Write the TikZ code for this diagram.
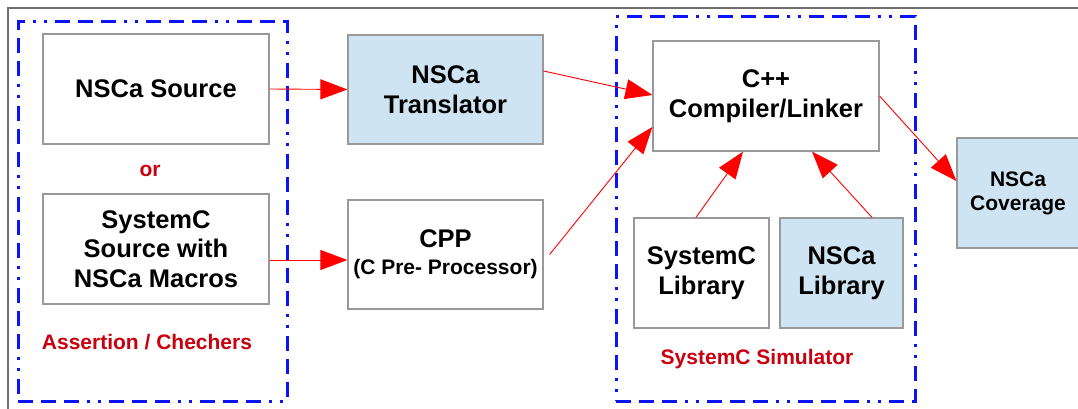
\documentclass[tikz,border=0pt]{standalone}
\usepackage{fontspec}
\setmainfont{Liberation Sans}
\usetikzlibrary{arrows.meta}
\definecolor{boxgray}{HTML}{999999}
\definecolor{framegray}{HTML}{6E6E6E}
\definecolor{toolblue}{HTML}{CFE4F2}
\definecolor{groupblue}{HTML}{0A14F5}
\definecolor{labelred}{HTML}{C8000F}
\definecolor{flowred}{HTML}{FF0000}
\tikzset{
  blockbox/.style={draw=boxgray, line width=1.2pt, fill=white, align=center,
    inner sep=0pt, font=\bfseries\fontsize{25.5}{29.5}\selectfont},
  toolbox/.style={blockbox, fill=toolblue},
  groupbox/.style={draw=groupblue, line width=3pt, inner sep=0pt,
    dash pattern=on 15pt off 8pt on 15pt off 8pt on 15pt off 8pt on 3pt off 8pt on 3pt off 8pt},
  grouplabel/.style={text=labelred, anchor=base, inner sep=0pt,
    font=\bfseries\fontsize{21}{25}\selectfont},
  flow/.style={draw=flowred, line width=0.9pt,
    -{Triangle[length=27pt, width=20pt, fill=flowred]}},
}
\begin{document}
\begin{tikzpicture}[x=1pt, y=-1pt]
  \useasboundingbox (0,0) rectangle (1078,409);
  \fill[white] (0,0) rectangle (1078,409);

  % page frame, open to the right and bottom
  \coordinate (frameTL) at (8,8);
  \coordinate (frameTR) at (1078,8);
  \coordinate (frameBL) at (8,409);
  \draw[framegray, line width=2pt] (frameTR) -- (frameTL) -- (frameBL);

  % groups
  \node[groupbox, minimum width=269pt, minimum height=379pt] (gassert) at (152.5,211.5) {};
  \node[groupbox, minimum width=299pt, minimum height=384pt] (gsim) at (765.5,209) {};

  % assertion sources
  \node[blockbox, minimum width=226pt, minimum height=110pt] (src) at (156,89) {NSCa Source};
  \node[grouplabel] (orlbl) at (150,176) {or};
  \node[blockbox, minimum width=226pt, minimum height=110pt] (scsrc) at (156,249)
    {SystemC\\Source with\\NSCa Macros};
  \node[grouplabel] (assertlbl) at (147,349) {Assertion / Chechers};

  % translation stage
  \node[toolbox, minimum width=195pt, minimum height=109pt] (trans) at (445.5,89.5)
    {NSCa\\Translator};
  \node[blockbox, minimum width=195pt, minimum height=109pt] (cpp) at (445.5,254.5)
    {CPP\\[-3pt]{\fontsize{21}{25}\selectfont (C Pre- Processor)}};

  % simulator
  \node[blockbox, minimum width=226pt, minimum height=110pt] (cxx) at (766,96)
    {C++\\Compiler/Linker};
  \node[blockbox, minimum width=135pt, minimum height=110pt] (sclib) at (701.5,273)
    {SystemC\\Library};
  \node[toolbox, minimum width=123pt, minimum height=110pt] (nslib) at (841.5,273)
    {NSCa\\Library};
  \node[grouplabel] (simlbl) at (757,364) {SystemC Simulator};

  % coverage output
  \node[toolbox, minimum width=122pt, minimum height=110pt,
    font=\bfseries\fontsize{21}{24}\selectfont] (cov) at (1018,193) {NSCa\\Coverage};

  % flows
  \coordinate (cppin) at ([yshift=-5.5pt]cpp.west);
  \draw[flow] (src.east) -- (trans.west);
  \draw[flow] (scsrc.east |- cppin) -- (cppin);
  \draw[flow] ([yshift=18.5pt]trans.east) -- ([yshift=1pt]cxx.west);
  \draw[flow] ([xshift=6pt]cpp.east) -- ([yshift=-31pt]cxx.west);
  \draw[flow] ([xshift=-5.5pt]sclib.north) -- ([xshift=-23pt]cxx.south);
  \draw[flow] ([xshift=30.5pt]nslib.north) -- ([xshift=46pt]cxx.south);
  \draw[flow] (cxx.east) -- ([yshift=12pt]cov.west);
\end{tikzpicture}
\end{document}
